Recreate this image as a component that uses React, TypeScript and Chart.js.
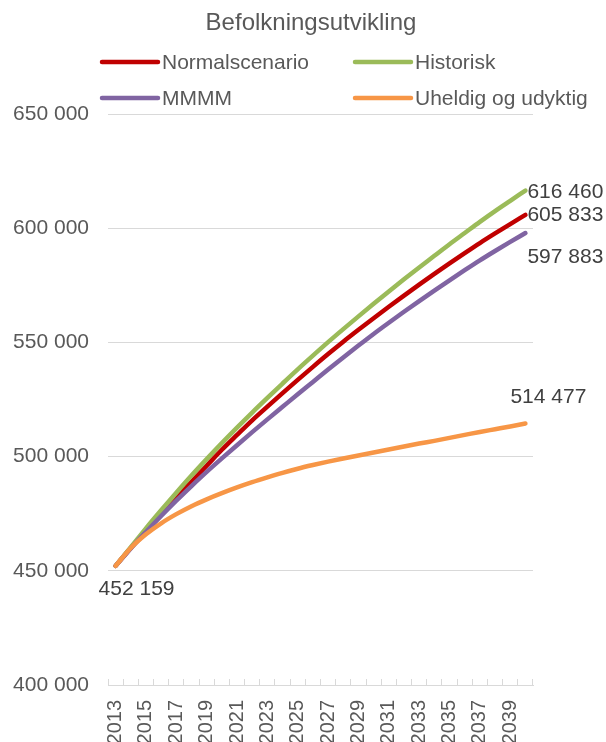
import { useEffect, useRef } from 'react';
import { Chart, registerables } from 'chart.js';

Chart.register(...registerables);

const titleText = 'Befolkningsutvikling';

const years = [
  '2013', '2014', '2015', '2016', '2017', '2018', '2019', '2020', '2021', '2022',
  '2023', '2024', '2025', '2026', '2027', '2028', '2029', '2030', '2031', '2032',
  '2033', '2034', '2035', '2036', '2037', '2038', '2039', '2040',
];

const seriesNames = ['Normalscenario', 'Historisk', 'MMMM', 'Uheldig og udyktig'];

const normal = [
  452159, 460000, 467500, 474800, 482000, 489000, 496000, 503000, 509500, 515900,
  521900, 527800, 533600, 539300, 544900, 550300, 555500, 560600, 565600, 570500,
  575300, 580000, 584600, 589100, 593500, 597700, 601800, 605833,
];

const historisk = [
  452159, 460300, 468600, 476500, 484200, 491700, 498900, 505900, 512700, 519300,
  525700, 532000, 538200, 544200, 550100, 555800, 561400, 566900, 572300, 577600,
  582800, 587900, 593000, 597900, 602800, 607500, 612000, 616460,
];

const mmmm = [
  452159, 459800, 467000, 474000, 480700, 487100, 493300, 499200, 505000, 510700,
  516300, 521800, 527300, 532700, 538100, 543400, 548600, 553700, 558600, 563400,
  568100, 572700, 577200, 581600, 585900, 590000, 594000, 597883,
];

const uheldig = [
  452159, 460000, 466000, 470800, 474800, 478300, 481300, 484000, 486500, 488800,
  490900, 492900, 494700, 496300, 497800, 499200, 500500, 501800, 503100, 504400,
  505700, 506900, 508200, 509500, 510800, 512000, 513200, 514477,
];

const seriesColors = ['#C00000', '#9BBB59', '#8064A2', '#F79646'];

const yMin = 400000;
const yMax = 650000;
const yStep = 50000;

const fmt = (v: number) => String(Math.round(v)).replace(/\B(?=(\d{3})+(?!\d))/g, ' ');

const FONT = '"Liberation Sans", Arial, sans-serif';

const overlayPlugin = {
  id: 'overlay',
  afterDatasetsDraw(chart: any) {
    const ctx = chart.ctx as CanvasRenderingContext2D;
    ctx.save();

    // Title
    ctx.font = `24px ${FONT}`;
    ctx.fillStyle = '#595959';
    ctx.textAlign = 'center';
    ctx.textBaseline = 'middle';
    ctx.fillText(titleText, 311, 23);

    // Legend (2 x 2 grid)
    const legendSlots = [
      [102, 62],
      [355, 62],
      [102, 98],
      [355, 98],
    ];
    ctx.font = `21px ${FONT}`;
    ctx.textAlign = 'left';
    chart.data.datasets.forEach((ds: any, i: number) => {
      const [lx, ly] = legendSlots[i];
      ctx.strokeStyle = ds.borderColor;
      ctx.lineWidth = 4.5;
      ctx.lineCap = 'round';
      ctx.beginPath();
      ctx.moveTo(lx, ly);
      ctx.lineTo(lx + 56, ly);
      ctx.stroke();
      ctx.fillStyle = '#595959';
      ctx.fillText(ds.label, lx + 60, ly + 1);
    });

    // Data labels
    ctx.font = `21px ${FONT}`;
    ctx.fillStyle = '#404040';
    ctx.textBaseline = 'middle';
    const endOffsets = [
      [2, 0],
      [2, 2],
      [2, 24],
      [-15, -26],
    ];
    chart.data.datasets.forEach((ds: any, i: number) => {
      const meta = chart.getDatasetMeta(i);
      const last = meta.data[meta.data.length - 1];
      const v = ds.data[ds.data.length - 1];
      ctx.textAlign = 'left';
      ctx.fillText(fmt(v), last.x + endOffsets[i][0], last.y + endOffsets[i][1]);
    });
    const meta0 = chart.getDatasetMeta(0);
    const first = meta0.data[0];
    ctx.textAlign = 'left';
    ctx.fillText(fmt(chart.data.datasets[0].data[0]), first.x - 17, first.y + 23);

    ctx.restore();
  },
};

export default function App() {
  const canvasRef = useRef<HTMLCanvasElement | null>(null);

  useEffect(() => {
    if (!canvasRef.current) return;
    const allSeries = [normal, historisk, mmmm, uheldig];
    const drawOrder = [3, 2, 1, 0];
    const chart = new Chart(canvasRef.current, {
      type: 'line',
      data: {
        labels: years,
        datasets: allSeries.map((s, i) => ({
          label: seriesNames[i],
          data: s,
          borderColor: seriesColors[i],
          backgroundColor: seriesColors[i],
          borderWidth: 4.5,
          borderCapStyle: 'round' as const,
          borderJoinStyle: 'round' as const,
          pointRadius: 0,
          pointHoverRadius: 0,
          cubicInterpolationMode: 'monotone' as const,
          fill: false,
          order: drawOrder[i],
        })),
      },
      options: {
        animation: false,
        responsive: true,
        maintainAspectRatio: false,
        events: [],
        layout: {
          padding: { top: 114, right: 73, bottom: 0, left: 0 },
        },
        plugins: {
          legend: { display: false },
          title: { display: false },
          tooltip: { enabled: false },
        },
        scales: {
          x: {
            type: 'category',
            offset: true,
            border: { display: true, color: '#D9D9D9', width: 1 },
            grid: {
              display: true,
              offset: true,
              drawOnChartArea: false,
              drawTicks: true,
              tickLength: -6,
              color: '#D9D9D9',
              lineWidth: 1,
            },
            ticks: {
              autoSkip: false,
              minRotation: 90,
              maxRotation: 90,
              padding: 21,
              color: '#595959',
              font: { family: FONT, size: 20 },
              callback: (_v: any, index: number) => (index % 2 === 0 ? years[index] : ''),
            },
            afterFit: (scale: any) => {
              scale.height = 57;
            },
          },
          y: {
            min: yMin,
            max: yMax,
            border: { display: false },
            grid: {
              color: '#D9D9D9',
              lineWidth: 1,
              drawTicks: false,
            },
            ticks: {
              stepSize: yStep,
              padding: 19,
              color: '#595959',
              font: { family: FONT, size: 21 },
              callback: (v: any) => fmt(Number(v)),
            },
            afterFit: (scale: any) => {
              scale.width = 108;
            },
          },
        },
      },
      plugins: [overlayPlugin],
    });
    return () => chart.destroy();
  }, []);

  return (
    <div style={{ position: 'fixed', left: 0, top: 0, width: 606, height: 742, background: '#fff' }}>
      <canvas ref={canvasRef} />
    </div>
  );
}
